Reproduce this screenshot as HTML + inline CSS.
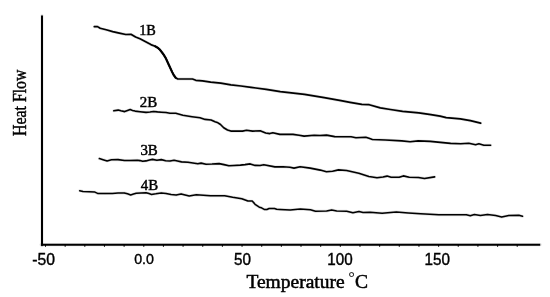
<!DOCTYPE html>
<html><head><meta charset="utf-8"><title>DSC curves</title>
<style>
html,body{margin:0;padding:0;background:#fff;}
svg{display:block;}
.s{font-family:"Liberation Serif",serif;fill:#000;}
.a{font-family:"Liberation Sans",sans-serif;fill:#000;font-size:15.7px;text-anchor:middle;stroke:#000;stroke-width:0.4;}
.l{stroke:#000;stroke-width:0.45;}
.t{font-size:19px;stroke:#000;stroke-width:0.5;}
.h *{fill:none;stroke:#000;stroke-opacity:0.13;stroke-width:2.9;stroke-linejoin:round;stroke-linecap:round;}
.c{fill:none;stroke:#000;stroke-width:1.6;stroke-linejoin:round;stroke-linecap:round;}
</style></head><body>
<svg width="550" height="297" viewBox="0 0 550 297">
<rect width="550" height="297" fill="#fff"/>
<g class="h">
<path d="M42,15.6V245.8"/><path d="M41,244.8H540.2"/>
<polyline points="94.3,26.7 97.5,26.6 100.2,28.3 106.2,29.8 112.7,31.6 119.3,33.1 125.8,34.5 131.3,34.4 135.6,37.0 140.0,38.8 143.3,40.5 150.9,44.6 155.0,46.2 157.8,47.8 160.0,49.8 162.0,52.4 164.0,55.2 166.0,58.6 168.9,65.0 172.2,72.1 173.8,75.2 175.6,77.7 177.8,79.0 185.0,79.0 192.5,79.0 195.8,80.3 202.4,80.9 210.7,82.1 220.8,83.2 230.9,84.8 241.0,86.0 251.1,87.4 266.2,89.3 280.3,91.7 304.5,94.3 324.2,97.6 341.0,100.7 350.0,102.3 361.8,104.4 369.2,104.7 380.3,107.9 390.4,109.5 402.6,111.3 418.8,112.8 430.9,114.6 440.1,116.2 446.2,117.6 460.3,118.9 470.4,120.7 480.6,123.2"/>
<polyline points="113.8,110.8 118.2,110.1 120.9,110.8 124.7,111.6 127.5,110.6 130.2,109.6 132.5,110.4 135.1,111.1 140.0,111.7 146.0,112.4 150.0,112.0 153.6,111.5 157.5,111.9 161.3,112.2 166.0,112.5 170.0,113.2 175.8,113.3 182.9,115.3 192.0,116.7 200.0,117.8 205.1,119.4 211.1,120.0 215.0,121.7 217.2,122.4 220.5,124.5 223.7,127.7 227.5,130.0 230.8,131.1 242.5,131.1 246.5,130.3 252.6,131.1 260.7,130.9 265.7,133.0 269.8,133.6 272.8,132.8 279.9,134.4 293.0,134.4 299.1,135.2 304.1,136.1 314.2,135.2 320.0,135.5 326.5,135.1 334.7,136.6 343.0,136.7 351.1,136.8 356.0,137.8 361.0,137.5 365.8,137.2 369.0,138.3 372.4,139.5 385.5,140.0 401.8,140.9 410.1,141.8 418.2,140.9 430.3,141.4 440.4,142.4 450.6,143.4 460.7,143.8 468.8,143.2 475.6,144.7 478.9,143.8 483.9,145.3 490.6,145.3"/>
<polyline points="99.4,158.6 103.0,159.7 107.1,160.9 111.5,159.7 118.0,159.6 124.5,160.5 130.0,160.5 137.3,160.2 140.0,160.6 142.7,161.3 146.0,160.9 149.5,160.0 152.5,159.4 156.9,160.2 161.3,159.6 165.6,160.7 170.0,161.0 174.1,160.2 177.5,161.0 181.5,161.9 188.0,162.2 197.8,163.7 201.1,163.1 206.0,164.2 212.0,164.0 219.1,163.6 224.0,164.6 228.9,165.8 234.0,165.5 240.4,165.1 245.0,164.6 250.2,163.9 255.1,165.4 260.0,165.5 263.8,164.8 274.9,166.9 283.0,166.7 290.0,167.3 294.0,168.1 300.1,166.8 310.2,168.1 320.3,170.1 326.4,171.7 332.5,171.3 338.5,169.9 346.6,170.5 358.8,173.3 368.9,176.5 377.0,177.8 383.0,177.0 387.1,176.1 391.1,177.2 399.2,177.2 403.3,175.9 409.3,177.3 418.4,177.5 424.5,178.5 434.6,176.9"/>
<polyline points="79.7,190.7 83.0,191.5 89.0,191.8 94.9,192.1 97.6,193.4 105.0,193.5 112.4,193.4 118.0,193.1 124.2,192.9 127.5,193.8 130.7,194.9 133.5,194.1 136.2,193.3 141.0,192.9 146.0,192.7 149.0,193.6 151.5,194.4 155.8,193.8 161.3,192.9 166.0,193.4 171.1,194.5 176.1,195.1 181.1,193.9 189.2,195.9 196.3,194.7 210.4,195.7 224.6,195.7 232.7,197.3 241.8,198.7 247.9,200.9 252.2,201.1 255.5,204.7 259.3,207.2 261.5,207.8 264.2,209.4 266.9,209.5 269.1,208.5 274.5,208.5 276.7,209.3 280.0,209.5 290.2,209.9 300.3,209.1 310.4,209.7 315.5,211.3 326.6,211.1 331.7,209.9 336.7,210.9 346.8,211.3 352.9,212.8 359.0,211.5 363.0,212.4 370.0,212.3 382.1,213.3 396.3,211.9 408.4,212.9 420.6,213.7 438.8,214.7 459.0,214.7 466.3,214.7 470.3,215.7 474.4,214.6 480.4,215.4 487.5,214.5 495.6,215.5 501.7,217.1 508.8,215.5 518.9,215.3 522.5,216.3"/>
</g>
<g>
<path d="M42,15.6V245.8" stroke="#000" stroke-width="2" fill="none"/>
<path d="M41,244.8H540.2" stroke="#000" stroke-width="1.9" fill="none"/>
<path d="M45.50,245V246.8 M65.16,245V246.8 M84.81,245V246.8 M104.47,245V246.8 M124.12,245V246.8 M143.78,245V246.8 M163.43,245V246.8 M183.09,245V246.8 M202.74,245V246.8 M222.40,245V246.8 M242.05,245V246.8 M261.71,245V246.8 M281.36,245V246.8 M301.01,245V246.8 M320.67,245V246.8 M340.33,245V246.8 M359.98,245V246.8 M379.63,245V246.8 M399.29,245V246.8 M418.95,245V246.8 M438.60,245V246.8 M458.25,245V246.8 M477.91,245V246.8 M497.57,245V246.8 M517.22,245V246.8" stroke="#000" stroke-width="1.05" fill="none"/>
<polyline class="c" style="stroke-width:1.7" points="94.3,26.7 97.5,26.6 100.2,28.3 106.2,29.8 112.7,31.6 119.3,33.1 125.8,34.5 131.3,34.4 135.6,37.0 140.0,38.8 143.3,40.5 150.9,44.6 155.0,46.2 157.8,47.8 160.0,49.8 162.0,52.4 164.0,55.2 166.0,58.6 168.9,65.0 172.2,72.1 173.8,75.2 175.6,77.7 177.8,79.0 185.0,79.0 192.5,79.0 195.8,80.3 202.4,80.9 210.7,82.1 220.8,83.2 230.9,84.8 241.0,86.0 251.1,87.4 266.2,89.3 280.3,91.7 304.5,94.3 324.2,97.6 341.0,100.7 350.0,102.3 361.8,104.4 369.2,104.7 380.3,107.9 390.4,109.5 402.6,111.3 418.8,112.8 430.9,114.6 440.1,116.2 446.2,117.6 460.3,118.9 470.4,120.7 480.6,123.2"/>
<polyline class="c" style="stroke-width:2" points="155,46.2 157.8,47.8 160,49.8 162,52.4 164,55.2 166,58.6 168.9,65 172.2,72.1 173.8,75.2 175.6,77.7"/>
<polyline class="c" points="113.8,110.8 118.2,110.1 120.9,110.8 124.7,111.6 127.5,110.6 130.2,109.6 132.5,110.4 135.1,111.1 140.0,111.7 146.0,112.4 150.0,112.0 153.6,111.5 157.5,111.9 161.3,112.2 166.0,112.5 170.0,113.2 175.8,113.3 182.9,115.3 192.0,116.7 200.0,117.8 205.1,119.4 211.1,120.0 215.0,121.7 217.2,122.4 220.5,124.5 223.7,127.7 227.5,130.0 230.8,131.1 242.5,131.1 246.5,130.3 252.6,131.1 260.7,130.9 265.7,133.0 269.8,133.6 272.8,132.8 279.9,134.4 293.0,134.4 299.1,135.2 304.1,136.1 314.2,135.2 320.0,135.5 326.5,135.1 334.7,136.6 343.0,136.7 351.1,136.8 356.0,137.8 361.0,137.5 365.8,137.2 369.0,138.3 372.4,139.5 385.5,140.0 401.8,140.9 410.1,141.8 418.2,140.9 430.3,141.4 440.4,142.4 450.6,143.4 460.7,143.8 468.8,143.2 475.6,144.7 478.9,143.8 483.9,145.3 490.6,145.3"/>
<polyline class="c" points="99.4,158.6 103.0,159.7 107.1,160.9 111.5,159.7 118.0,159.6 124.5,160.5 130.0,160.5 137.3,160.2 140.0,160.6 142.7,161.3 146.0,160.9 149.5,160.0 152.5,159.4 156.9,160.2 161.3,159.6 165.6,160.7 170.0,161.0 174.1,160.2 177.5,161.0 181.5,161.9 188.0,162.2 197.8,163.7 201.1,163.1 206.0,164.2 212.0,164.0 219.1,163.6 224.0,164.6 228.9,165.8 234.0,165.5 240.4,165.1 245.0,164.6 250.2,163.9 255.1,165.4 260.0,165.5 263.8,164.8 274.9,166.9 283.0,166.7 290.0,167.3 294.0,168.1 300.1,166.8 310.2,168.1 320.3,170.1 326.4,171.7 332.5,171.3 338.5,169.9 346.6,170.5 358.8,173.3 368.9,176.5 377.0,177.8 383.0,177.0 387.1,176.1 391.1,177.2 399.2,177.2 403.3,175.9 409.3,177.3 418.4,177.5 424.5,178.5 434.6,176.9"/>
<polyline class="c" style="stroke-width:1.55" points="79.7,190.7 83.0,191.5 89.0,191.8 94.9,192.1 97.6,193.4 105.0,193.5 112.4,193.4 118.0,193.1 124.2,192.9 127.5,193.8 130.7,194.9 133.5,194.1 136.2,193.3 141.0,192.9 146.0,192.7 149.0,193.6 151.5,194.4 155.8,193.8 161.3,192.9 166.0,193.4 171.1,194.5 176.1,195.1 181.1,193.9 189.2,195.9 196.3,194.7 210.4,195.7 224.6,195.7 232.7,197.3 241.8,198.7 247.9,200.9 252.2,201.1 255.5,204.7 259.3,207.2 261.5,207.8 264.2,209.4 266.9,209.5 269.1,208.5 274.5,208.5 276.7,209.3 280.0,209.5 290.2,209.9 300.3,209.1 310.4,209.7 315.5,211.3 326.6,211.1 331.7,209.9 336.7,210.9 346.8,211.3 352.9,212.8 359.0,211.5 363.0,212.4 370.0,212.3 382.1,213.3 396.3,211.9 408.4,212.9 420.6,213.7 438.8,214.7 459.0,214.7 466.3,214.7 470.3,215.7 474.4,214.6 480.4,215.4 487.5,214.5 495.6,215.5 501.7,217.1 508.8,215.5 518.9,215.3 522.5,216.3"/>
<text class="s l" font-size="14.9" transform="translate(139.2,34.9) scale(0.96,1)">1B</text>
<text class="s l" font-size="14.4" transform="translate(139.7,107.3) scale(1.04,1)">2B</text>
<text class="s l" font-size="14.2" transform="translate(140.4,155.1) scale(1.05,1)">3B</text>
<text class="s l" font-size="14.3" transform="translate(140.7,189.6) scale(1.04,1)">4B</text>
<text class="a" transform="translate(43.7,265)">-50</text>
<text class="a" style="font-size:15.3px" transform="translate(144.1,264.4) scale(0.93,1)">0.0</text>
<text class="a" transform="translate(242.5,264.9) scale(0.97,1)">50</text>
<text class="a" transform="translate(340,264.9) scale(0.97,1)">100</text>
<text class="a" transform="translate(437.3,264.9) scale(0.97,1)">150</text>
<text class="s t" transform="translate(246.4,287.9) scale(1.027,1)">Temperature <tspan x="99.5" dy="-5.6" style="font-size:15px;stroke-width:0.1">°</tspan><tspan x="105.8" dy="5.6">C</tspan></text>
<text class="s" font-size="18" stroke="#000" stroke-width="0.45" transform="translate(25.5,135.9) rotate(-90) scale(0.88,1)">Heat Flow</text>
</g>
</svg>
</body></html>
